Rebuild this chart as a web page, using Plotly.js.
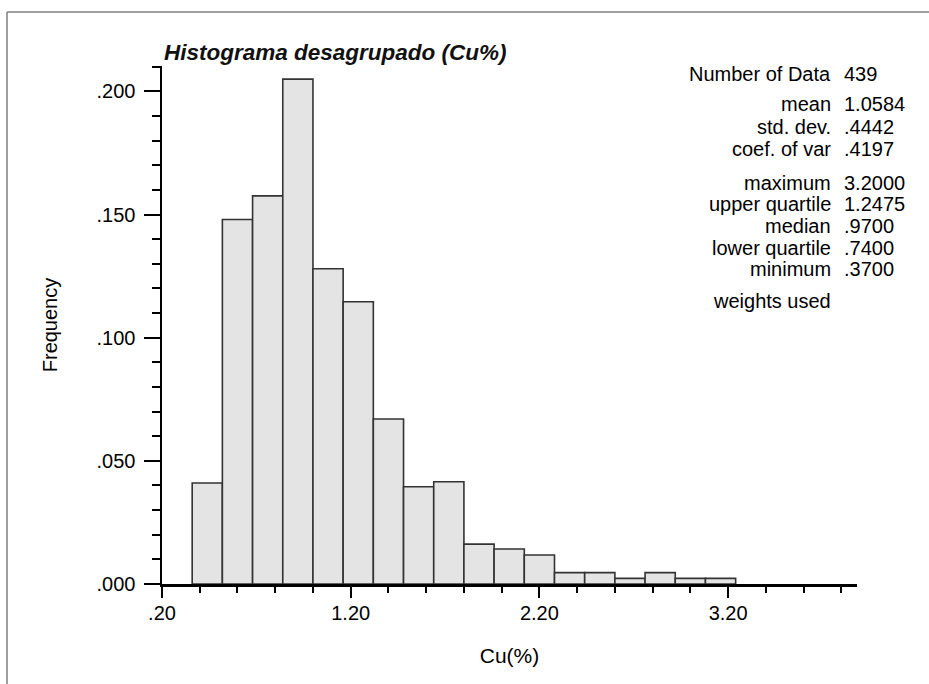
<!DOCTYPE html>
<html>
<head>
<meta charset="utf-8">
<script src="https://cdn.plot.ly/plotly-3.0.1.min.js"></script>
<style>
  html, body { margin: 0; padding: 0; background: #fff; }
  #chart { width: 929px; height: 684px; }
</style>
</head>
<body>
<div id="chart"></div>
<script>
// ---- data ----
const binLeft = [0.36, 0.52, 0.68, 0.84, 1.00, 1.16, 1.32, 1.48, 1.64, 1.80, 1.96, 2.12, 2.28, 2.44, 2.60, 2.76, 2.92, 3.08];
const binWidth = 0.16;
const frequency = [0.041, 0.148, 0.1576, 0.205, 0.128, 0.1146, 0.067, 0.0395, 0.0415, 0.0162, 0.0142, 0.0118, 0.0046, 0.0046, 0.0023, 0.0046, 0.0023, 0.0023];
const xTickVals = [0.2, 1.2, 2.2, 3.2];
const xTickText = ['.20', '1.20', '2.20', '3.20'];
const yTickVals = [0, 0.05, 0.10, 0.15, 0.20];
const yTickText = ['.000', '.050', '.100', '.150', '.200'];
const statLabels = ['Number of Data', 'mean', 'std. dev.', 'coef. of var', 'maximum', 'upper quartile', 'median', 'lower quartile', 'minimum', 'weights used'];
const statValues = ['439', '1.0584', '.4442', '.4197', '3.2000', '1.2475', '.9700', '.7400', '.3700', ''];
const titleText = 'Histograma desagrupado (Cu%)';
const xTitle = 'Cu(%)';
const yTitle = 'Frequency';

// ---- layout geometry (pixels) ----
const L = 162, T = 66, W = 695, H = 518;
const pxX = p => (p - L) / W;
const pxY = p => (T + H - p) / H;
const statY = [73.5, 104, 126.5, 149, 183, 204.5, 226, 247.5, 269, 301];

const FONT = 'Liberation Sans, Arial, sans-serif';

const annotations = [];
statLabels.forEach((s, i) => {
  annotations.push({
    xref: 'paper', yref: 'paper', x: pxX(833), y: pxY(statY[i]),
    xanchor: 'right', yanchor: 'middle', text: s, showarrow: false,
    font: { family: FONT, size: 20, color: '#000' }
  });
  if (statValues[i]) annotations.push({
    xref: 'paper', yref: 'paper', x: pxX(842), y: pxY(statY[i]),
    xanchor: 'left', yanchor: 'middle', text: statValues[i], showarrow: false,
    font: { family: FONT, size: 20, color: '#000' }
  });
});
annotations.push({
  xref: 'paper', yref: 'paper', x: pxX(162), y: pxY(52),
  xanchor: 'left', yanchor: 'middle', text: '<b><i>' + titleText + '</i></b>', showarrow: false,
  font: { family: FONT, size: 22.5, color: '#111' }
});

const trace = {
  type: 'bar',
  x: binLeft,
  y: frequency,
  width: binWidth,
  offset: 0,
  marker: { color: '#e4e4e4', line: { color: '#333', width: 1.6 } },
  hoverinfo: 'x+y'
};

const layout = {
  width: 929, height: 684,
  margin: { l: L, r: 929 - L - W, t: T, b: 684 - T - H },
  paper_bgcolor: '#fff', plot_bgcolor: '#fff',
  showlegend: false,
  bargap: 0,
  xaxis: {
    range: [0.2, 0.2 + W / 188.7],
    tickmode: 'array', tickvals: xTickVals, ticktext: xTickText,
    ticks: 'outside', ticklen: 11, tickwidth: 2, tickcolor: '#000',
    minor: { tickmode: 'linear', tick0: 0.2, dtick: 0.2, ticks: 'outside', ticklen: 6, tickwidth: 2, tickcolor: '#000' },
    showline: true, linecolor: '#000', linewidth: 2.5,
    showgrid: false, zeroline: false,
    ticklabelstandoff: -2,
    tickfont: { family: FONT, size: 20, color: '#000' },
    title: { text: xTitle, font: { family: FONT, size: 21, color: '#000' }, standoff: 26 }
  },
  yaxis: {
    range: [0, H / 2463],
    tickmode: 'array', tickvals: yTickVals, ticktext: yTickText,
    ticks: 'outside', ticklen: 16, tickwidth: 2, tickcolor: '#000',
    minor: { tickmode: 'linear', tick0: 0, dtick: 0.01, ticks: 'outside', ticklen: 8, tickwidth: 2, tickcolor: '#000' },
    showline: true, linecolor: '#000', linewidth: 2.5,
    showgrid: false, zeroline: false,
    ticklabelstandoff: 4,
    tickfont: { family: FONT, size: 20, color: '#000' },
    title: { text: yTitle, font: { family: FONT, size: 20, color: '#000' }, standoff: 34 }
  },
  annotations: annotations,
  shapes: [
    { type: 'line', xref: 'paper', yref: 'paper', x0: pxX(7), x1: pxX(7), y0: pxY(12), y1: pxY(700), line: { color: '#808080', width: 1.5 } },
    { type: 'line', xref: 'paper', yref: 'paper', x0: pxX(7), x1: pxX(940), y0: pxY(12), y1: pxY(12), line: { color: '#808080', width: 1.5 } }
  ]
};

Plotly.newPlot('chart', [trace], layout, { displayModeBar: false, staticPlot: true });
</script>
</body>
</html>
